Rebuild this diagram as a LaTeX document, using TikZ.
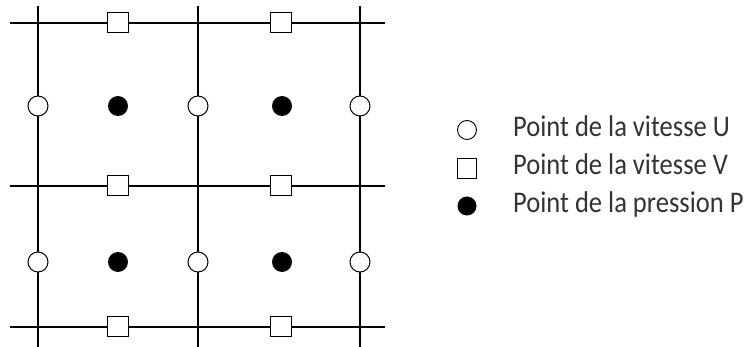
\documentclass[tikz,border=0pt]{standalone}
\usepackage{fontspec}
\setmainfont{Carlito}[FakeStretch=0.885]
\begin{document}
\begin{tikzpicture}[x=1pt,y=-1pt,
  grid/.style={line width=2pt},
  ucirc/.style={circle,draw,fill=white,inner sep=0pt,minimum size=20pt,line width=1pt},
  vsq/.style={rectangle,draw,fill=white,inner sep=0pt,minimum width=21pt,minimum height=20pt,line width=1pt},
  pdot/.style={circle,fill=black,inner sep=0pt,minimum size=20pt},
  legtxt/.style={anchor=base west,inner sep=0pt,text=black!80,font=\fontsize{30}{34}\selectfont}]
\useasboundingbox (0,0) rectangle (750,347);
%grid
\foreach \x in {38,198,360} \draw[grid] (\x,6)--(\x,347);
\foreach \y in {23,186,327} \draw[grid] (10,\y)--(385,\y);
%points U and P
\foreach \y/\j in {106/a,262/b}{
  \foreach \x/\i in {38/1,198/2,360/3} \node[ucirc] (u\i\j) at (\x,\y) {};
  \foreach \x/\i in {118/1,282/2} \node[pdot] (p\i\j) at (\x,\y) {};
}
%points V
\foreach \y/\j in {23/a,186/b,327/c}
  \foreach \x/\i in {118/1,281/2} \node[vsq] (v\i\j) at (\x,\y) {};
%legend
\node[ucirc,minimum size=19pt,line width=0.9pt] (lu) at (467,130) {};
\node[vsq,minimum width=19pt,minimum height=20pt,line width=0.9pt] (lv) at (467,168) {};
\node[pdot,minimum size=19pt] (lp) at (467,206) {};
\node[legtxt] (tu) at (513,137) {Point de la vitesse U};
\node[legtxt] (tv) at (513,175) {Point de la vitesse V};
\node[legtxt] (tp) at (513,213) {Point de la pression P};
\end{tikzpicture}
\end{document}
